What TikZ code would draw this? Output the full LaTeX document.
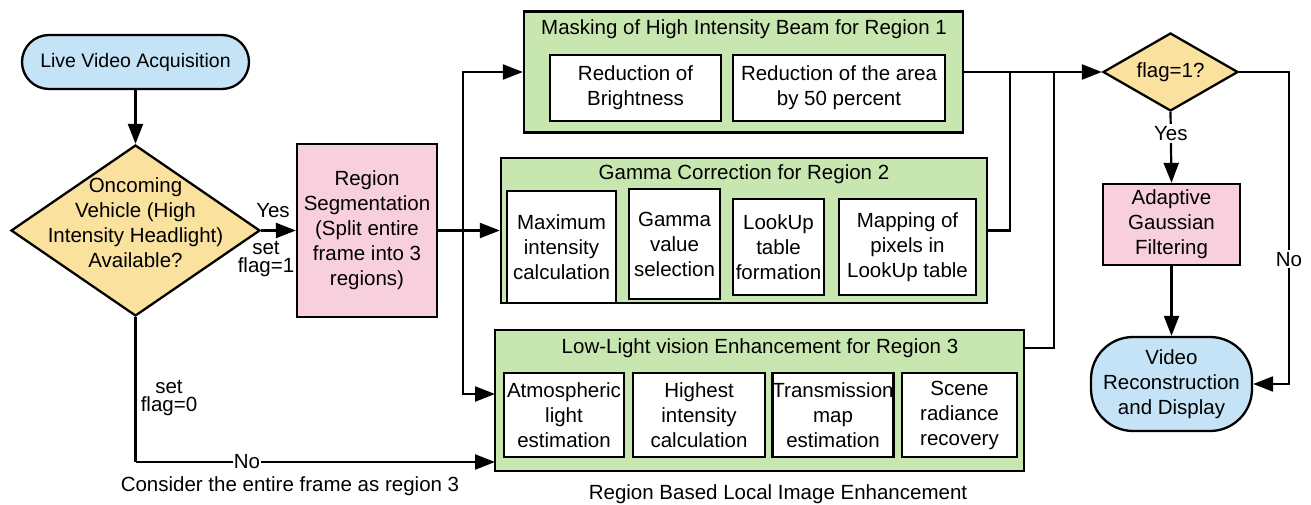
\documentclass[tikz,border=0pt]{standalone}
\usepackage{fontspec}
\setmainfont{Liberation Sans}
\usetikzlibrary{shapes.geometric,arrows.meta}
\definecolor{cblue}{RGB}{196,227,246}
\definecolor{cyel}{RGB}{250,225,158}
\definecolor{cpink}{RGB}{248,207,221}
\definecolor{cgreen}{RGB}{200,231,176}
\newcommand\fsz{\fontsize{20.5}{25}\selectfont}
\newcommand\fsl{\fontsize{20.5}{18}\selectfont}
\begin{document}
\begin{tikzpicture}[x=1pt,y=1pt,
  base/.style={draw=black,line width=2.3pt,align=center,inner sep=0pt,font=\fsz},
  box/.style={base,rectangle},
  inbox/.style={box,fill=white},
  grp/.style={box,fill=cgreen},
  dec/.style={base,diamond,fill=cyel},
  term/.style={base,fill=cblue},
  proc/.style={box,fill=cpink},
  txt/.style={align=center,inner sep=0pt,font=\fsz},
  lbl/.style={align=center,inner sep=1pt,font=\fsl},
  arr/.style={-{Triangle[length=20pt,width=15pt]},line width=2.2pt},
  ln/.style={line width=2.2pt}
]
\useasboundingbox (0,0) rectangle (1311,-505);

% left part
\node[term,rounded corners=27pt,minimum width=227pt,minimum height=54pt,font=\fontsize{19.5}{23}\selectfont] (lva) at (135.5,-62) {Live Video Acquisition};
\node[dec,minimum width=249pt,minimum height=171pt] (dia) at (135.5,-230.5) {};
\node[txt] (diat) at (135.5,-223) {Oncoming\\Vehicle (High\\Intensity Headlight)\\Available?};
\node[proc,minimum width=140pt,minimum height=173pt] (seg) at (367,-230.5) {Region\\Segmentation\\(Split entire\\frame into 3\\regions)};

% masking group
\node[grp,minimum width=439pt,minimum height=121pt] (mask) at (743.5,-72) {};
\node[txt] (maskt) at (744,-29) {Masking of High Intensity Beam for Region 1};
\node[inbox,minimum width=171pt,minimum height=66pt] (m1) at (635.5,-88) {Reduction of\\Brightness};
\node[inbox,minimum width=212pt,minimum height=66pt] (m2) at (839,-88) {Reduction of the area\\by 50 percent};

% gamma group
\node[grp,minimum width=486pt,minimum height=145pt] (gam) at (744,-230.5) {};
\node[txt] (gamt) at (744,-174) {Gamma Correction for Region 2};
\node[inbox,minimum width=109pt,minimum height=112pt] (g1) at (561.5,-247) {Maximum\\intensity\\calculation};
\node[inbox,minimum width=91pt,minimum height=110pt] (g2) at (674.5,-244) {Gamma\\value\\selection};
\node[inbox,minimum width=91pt,minimum height=96pt] (g3) at (778.5,-247) {LookUp\\table\\formation};
\node[inbox,minimum width=137pt,minimum height=96pt] (g4) at (907.5,-247) {Mapping of\\pixels in\\LookUp table};

% low-light group
\node[grp,minimum width=529pt,minimum height=141pt] (low) at (759.5,-400.5) {};
\node[txt] (lowt) at (760,-348) {Low-Light vision Enhancement for Region 3};
\node[inbox,minimum width=120pt,minimum height=84pt] (l1) at (564,-415) {Atmospheric\\light\\estimation};
\node[inbox,minimum width=132pt,minimum height=84pt] (l2) at (699,-415) {Highest\\intensity\\calculation};
\node[inbox,minimum width=120pt,minimum height=84pt] (l3) at (833,-415) {Transmission\\map\\estimation};
\node[inbox,minimum width=115pt,minimum height=84pt] (l4) at (959.5,-415) {Scene\\radiance\\recovery};
\node[txt] (cap) at (778,-494) {Region Based Local Image Enhancement};

% right part
\node[dec,minimum width=135pt,minimum height=78pt] (flag) at (1170.5,-72) {};
\node[txt] (flagt) at (1170.5,-72) {flag=1?};
\node[proc,minimum width=137pt,minimum height=81pt] (ada) at (1171.5,-224.5) {Adaptive\\Gaussian\\Filtering};
\node[term,rounded corners=42pt,minimum width=161pt,minimum height=94pt] (vid) at (1171.5,-384) {Video\\Reconstruction\\and Display};

% junction coordinates
\coordinate (j1) at (463,-230.5);
\coordinate (j2) at (1010,-72);
\coordinate (j3) at (1054,-72);
\coordinate (lowin) at (495,-394);
\coordinate (lowno) at (495,-462);
\coordinate (lowout) at (1024,-348);
\coordinate (nob) at (135.5,-462);
\coordinate (rno) at (1289,-72);

% connectors
\draw[arr] (lva.south) -- (dia.north);
\draw[arr] (dia.east) -- (seg.west);
\node[lbl] (yes1) at (273,-211) {Yes};
\node[lbl] (set1) at (266,-259) {set\\flag=1};
\draw[arr] (seg.east) -- (gam.west);
\draw[arr] (j1) |- (mask.west);
\draw[arr] (j1) |- (lowin);
\draw[ln] (dia.south) -- (nob);
\draw[arr] (nob) -- node[pos=0.31,fill=white,inner sep=1pt,font=\fsz] (no1) {No} (lowno);
\node[lbl] (set0) at (169,-398) {set\\flag=0};
\node[txt] (cons) at (290,-486) {Consider the entire frame as region 3};
\draw[arr] (mask.east) -- (flag.west);
\draw[ln] (gam.east) -| (j2);
\draw[ln] (lowout) -| (j3);
\draw[arr] (flag.south) -- node[fill=white,inner sep=2pt,font=\fsz,pos=0.3] (yes2) {Yes} (ada.north);
\draw[arr] (ada.south) -- (vid.north);
\draw[arr] (flag.east) -- (rno) |- node[pos=0.3,fill=white,inner sep=2pt,font=\fsz] (no2) {No} (vid.east);
\end{tikzpicture}
\end{document}
